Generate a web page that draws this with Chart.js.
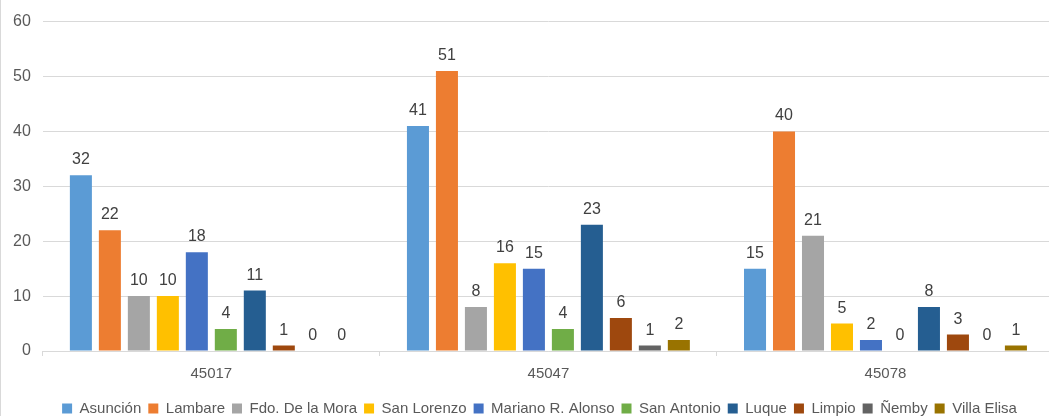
<!DOCTYPE html>
<html>
<head>
<meta charset="utf-8">
<script src="https://cdn.jsdelivr.net/npm/chart.js@4"></script>
<style>
html,body{margin:0;padding:0;background:#fff;overflow:hidden;width:1049px;height:416px;}
#wrap{position:relative;width:1054px;height:426px;border-left:1px solid #d9d9d9;box-sizing:border-box;}
</style>
</head>
<body>
<div id="wrap"><canvas id="c"></canvas></div>
<script>
const categories = ["45017", "45047", "45078"];
const seriesNames = ["Asunción", "Lambare", "Fdo. De la Mora", "San Lorenzo", "Mariano R. Alonso", "San Antonio", "Luque", "Limpio", "Ñemby", "Villa Elisa"];
const asuncion = [32, 41, 15];
const lambare = [22, 51, 40];
const fdoDeLaMora = [10, 8, 21];
const sanLorenzo = [10, 16, 5];
const marianoRAlonso = [18, 15, 2];
const sanAntonio = [4, 4, 0];
const luque = [11, 23, 8];
const limpio = [1, 6, 3];
const nemby = [0, 1, 0];
const villaElisa = [0, 2, 1];
const yTicks = [0, 10, 20, 30, 40, 50, 60];

const seriesValues = [asuncion, lambare, fdoDeLaMora, sanLorenzo, marianoRAlonso, sanAntonio, luque, limpio, nemby, villaElisa];
const colors = ["#5B9BD5", "#ED7D31", "#A5A5A5", "#FFC000", "#4472C4", "#70AD47", "#255E91", "#9E480E", "#636363", "#997300"];
const FONT = '"Liberation Sans", Arial, sans-serif';

const labelPlugin = {
  id: 'barLabels',
  afterDatasetsDraw(chart) {
    const ctx = chart.ctx;
    ctx.save();
    ctx.font = '16px ' + FONT;
    ctx.fillStyle = '#404040';
    ctx.textAlign = 'center';
    ctx.textBaseline = 'alphabetic';
    chart.data.datasets.forEach((ds, i) => {
      const meta = chart.getDatasetMeta(i);
      meta.data.forEach((bar, j) => {
        ctx.fillText(String(ds.data[j]), bar.x, bar.y - 11);
      });
    });
    ctx.restore();
  }
};

const legendShift = {
  id: 'legendShift',
  afterLayout(chart) {
    if (chart.legend) {
      chart.legend.left += 12;
      chart.legend.right += 12;
    }
  }
};

new Chart(document.getElementById('c'), {
  type: 'bar',
  data: {
    labels: categories,
    datasets: seriesNames.map((n, i) => ({
      label: n,
      data: seriesValues[i],
      backgroundColor: colors[i],
      borderWidth: 0,
      categoryPercentage: 0.86,
      barPercentage: 0.76
    }))
  },
  options: {
    responsive: true,
    maintainAspectRatio: false,
    animation: false,
    layout: {padding: {top: 8, left: 0, right: 0, bottom: 0}},
    scales: {
      x: {
        grid: {display: true, drawOnChartArea: false, drawTicks: true, tickLength: 5, color: '#d9d9d9', offset: true},
        border: {display: true, color: '#d9d9d9'},
        ticks: {color: '#595959', font: {family: FONT, size: 15}, padding: 9},
        afterFit(axis) { axis.height += 2; }
      },
      y: {
        min: 0, max: 60,
        afterBuildTicks(axis) { axis.ticks = yTicks.map(v => ({value: v})); },
        grid: {color: '#d9d9d9', drawTicks: false, lineWidth: 1},
        border: {display: false},
        ticks: {color: '#595959', font: {family: FONT, size: 16}, padding: 12}
      }
    },
    plugins: {
      legend: {
        position: 'bottom',
        labels: {
          boxWidth: 10, boxHeight: 10, padding: 7,
          color: '#595959',
          font: {family: FONT, size: 15}
        }
      },
      tooltip: {enabled: false}
    }
  },
  plugins: [labelPlugin, legendShift]
});
</script>
</body>
</html>
